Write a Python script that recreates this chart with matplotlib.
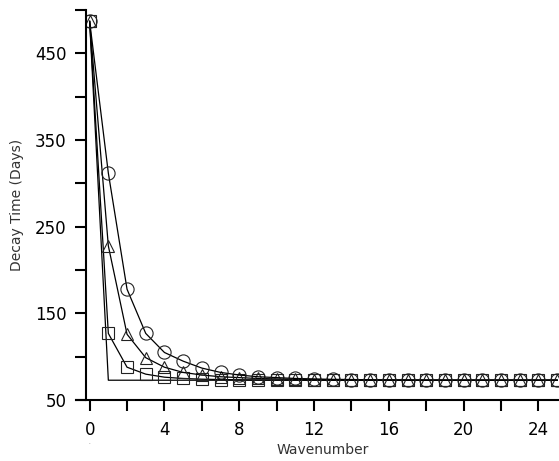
import numpy as np
import matplotlib
matplotlib.use("Agg")
import matplotlib.pyplot as plt
from matplotlib.ticker import MultipleLocator

# wavenumbers 0..25
wavenumber = list(range(0, 26))

# decay times (days)
circle_vals = [487, 312, 178, 127, 105, 95, 87, 82, 79, 77, 76, 75, 74.5, 74, 73.8, 73.5,
               73.3, 73.2, 73.1, 73, 73, 73, 73, 73, 73, 73]
triangle_vals = [487, 228, 126, 99, 88, 82, 79, 77, 76, 75, 74.5, 74, 73.7, 73.5, 73.3, 73.2,
                 73.1, 73, 73, 73, 73, 73, 73, 73, 73, 73]
square_vals = [487, 127, 88, 80, 76.5, 75, 74.2, 73.8, 73.5, 73.3, 73.2, 73.1, 73, 73, 73, 73,
               73, 73, 73, 73, 73, 73, 73, 73, 73, 73]
plain_vals = [487, 73, 73, 73, 73, 73, 73, 73, 73, 73, 73, 73, 73, 73, 73, 73,
              73, 73, 73, 73, 73, 73, 73, 73, 73, 73]

fig = plt.figure(figsize=(5.59, 4.61), dpi=100)
ax = fig.add_axes([0.154, 0.132, 0.846, 0.846])

ax.plot(wavenumber, plain_vals, color="black", lw=0.9)
ax.plot(wavenumber, square_vals, color="black", lw=0.9, marker="s", ms=8.5,
        mfc="none", mec="#222222", mew=0.8)
ax.plot(wavenumber, triangle_vals, color="black", lw=0.9, marker="^", ms=8.5,
        mfc="none", mec="#222222", mew=0.8)
ax.plot(wavenumber, circle_vals, color="black", lw=0.9, marker="o", ms=9.5,
        mfc="none", mec="#222222", mew=0.8)

ax.set_xlim(-0.19, 25.1)
ax.set_ylim(50, 500)

ax.xaxis.set_major_locator(MultipleLocator(4))
ax.xaxis.set_minor_locator(MultipleLocator(2))
ax.yaxis.set_minor_locator(MultipleLocator(50))
ax.set_yticks([50, 150, 250, 350, 450])

for s in ["top", "right"]:
    ax.spines[s].set_visible(False)
for s in ["left", "bottom"]:
    ax.spines[s].set_linewidth(1.5)
ax.spines["bottom"].set_bounds(-0.75, 25.1)

ax.tick_params(which="both", direction="out", width=1.5, length=8, labelsize=12, pad=6)
ax.tick_params(axis="x", which="both", length=8, pad=7)

ax.set_xlabel("Wavenumber", fontsize=10, color="#333333", labelpad=3)
ax.set_ylabel("Decay Time (Days)", fontsize=10, color="#333333", labelpad=8)

ax.text(0, -0.113, ".", transform=ax.get_xaxis_transform(), ha="center",
        va="baseline", fontsize=4, color="#555555")

fig.savefig("out.png", dpi=100)
